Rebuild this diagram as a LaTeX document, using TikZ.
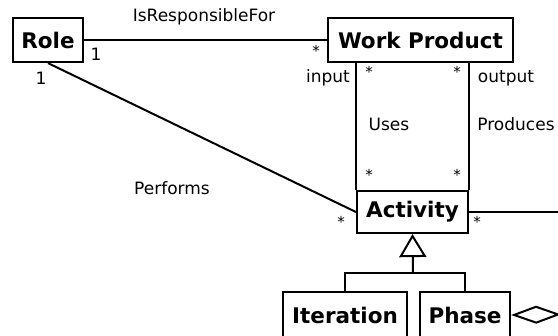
\documentclass[tikz,border=0pt]{standalone}
\usepackage{fontspec}
\setmainfont{DejaVu Sans}
\usetikzlibrary{arrows.meta}

\begin{document}
\begin{tikzpicture}
        [x=1pt,y=-1pt,line width=2pt,
         box/.style={draw,line width=2.2pt,inner sep=0pt,minimum height=44pt,
           font=\fontsize{21.5}{24}\selectfont\bfseries},
         lbl/.style={inner sep=0pt,font=\fontsize{17}{20}\selectfont},
         mult/.style={inner sep=0pt,font=\fontsize{15}{18}\selectfont}]
        \useasboundingbox (0,0) rectangle (558,336);

        \node[box,minimum width=70pt] (Role) at (48,40) {Role};
        \node[box,minimum width=185pt] (WP) at (420.5,40) {Work Product};
        \node[box,minimum width=111pt,minimum height=42pt] (Act) at (412.5,212) {Activity};
        \node[box,minimum width=124pt,minimum height=46pt] (Iter) at (345,315) {Iteration};
        \node[box,minimum width=90pt,minimum height=46pt] (Phase) at (465,315) {Phase};

        \coordinate (actEnd) at (600,212);
        \coordinate (aggEnd) at (600,314);
        \coordinate (join) at (413,273);

        \path (Role) edge (WP);
        \path (Role.south) edge (Act.west);
        \draw (Act.north west) -- (Act.north west |- WP.south);
        \draw (Act.north east) -- (Act.north east |- WP.south);
        \draw (Act.east) -- (actEnd);
        \draw (Iter.north) |- (join) -| (Phase.north);
        \draw[-{Triangle[open,length=23pt,width=27pt]}] (join) -- (Act.south);
        \draw[{Diamond[open,length=50pt,width=18pt]}-] (Phase.east) -- (aggEnd);

        \node[lbl] (resp) at (204,17) {IsResponsibleFor};
        \node[lbl] (perf) at (172,188) {Performs};
        \node[lbl] (in) at (328,78) {input};
        \node[lbl] (out) at (506,78) {output};
        \node[lbl] (uses) at (389,124) {Uses};
        \node[lbl] (prod) at (516,124) {Produces};

        \node[lbl] (m1) at (96,54) {1};
        \node[lbl] (m2) at (41,78) {1};
        \node[mult] (m3) at (316,51) {*};
        \node[mult] (m4) at (369,72) {*};
        \node[mult] (m5) at (457,72) {*};
        \node[mult] (m6) at (369,175) {*};
        \node[mult] (m7) at (457,175) {*};
        \node[mult] (m8) at (341,222) {*};
        \node[mult] (m9) at (477,222) {*};
    \end{tikzpicture}
\end{document}
